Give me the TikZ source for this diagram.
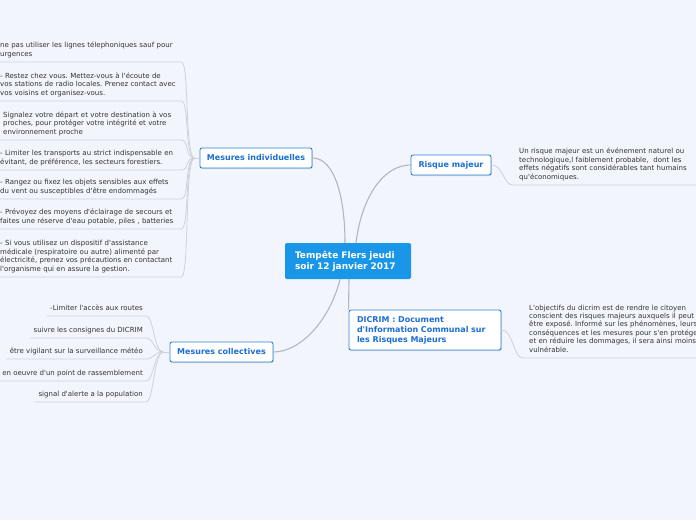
\documentclass[tikz,border=0pt]{standalone}
\usepackage{fontspec}
\setmainfont{DejaVu Sans}[Ligatures=TeXOff]
\usetikzlibrary{shadows}
\definecolor{bgblue}{HTML}{F2F5FC}
\definecolor{rootblue}{HTML}{1A96E8}
\definecolor{topicblue}{HTML}{2C82DE}
\definecolor{topictext}{HTML}{1C6ED6}
\definecolor{linkgray}{HTML}{B4B6BE}
\definecolor{leafgray}{HTML}{CED1DA}
\definecolor{leaftext}{HTML}{333333}
\frenchspacing

\begin{document}
\begin{tikzpicture}[
    x=1pt, y=-1pt,
    root/.style={rectangle, rounded corners=2pt, fill=rootblue, text=white,
                 font=\fontsize{9}{11}\selectfont\bfseries, align=left,
                 minimum width=126pt, minimum height=36pt, text width=106pt,
                 inner xsep=10pt},
    topic/.style={rectangle, rounded corners=2pt, draw=topicblue, line width=0.9pt,
                  fill=white, text=topictext, font=\fontsize{8}{10}\selectfont\bfseries,
                  minimum height=20pt, inner sep=0pt,
                  drop shadow={shadow xshift=0.8pt, shadow yshift=-1pt, opacity=0.25}},
    leaf/.style={inner xsep=3pt, inner ysep=3.2pt, text=leaftext, align=left,
                 font=\fontsize{7}{8.4}\selectfont, execute at end node=\strut},
    link/.style={draw=linkgray, line width=1.1pt},
    twig/.style={draw=leafgray, line width=0.8pt},
]
\useasboundingbox (0,0) rectangle (696,520);
\clip (0,0) rectangle (696,520);
\fill[bgblue] (0,0) rectangle (696,520);

% central topic and the four main branches
\node[root] (storm) at (348,261) {Tempête Flers jeudi\\soir 12 janvier 2017};
\node[topic, minimum width=112pt] (indiv) at (256,158) {Mesures individuelles};
\node[topic, minimum width=80pt] (risk) at (451,165) {Risque majeur};
\node[topic, minimum width=103pt] (coll) at (221.5,352) {Mesures collectives};
\node[topic, minimum width=152pt, minimum height=40pt, text width=136pt,
      align=left] (dicrim) at (425,330)
  {DICRIM : Document\\d'Information Communal sur\\les Risques Majeurs};

\draw[link] ([xshift=-3pt]storm.north) .. controls +(0,-43) and +(23,0) .. (indiv.east);
\draw[link] ([xshift=8pt]storm.north) .. controls +(6,-48) and +(-26,0) .. (risk.west);
\draw[link] ([xshift=-8pt]storm.south) .. controls +(-10,41) and +(27,0) .. (coll.east);
\draw[link] ([xshift=1pt]storm.south) -- (dicrim.north west);

% Mesures individuelles: leaves on the left
\coordinate (indivj) at ([xshift=-5pt]indiv.west);
\node[leaf, anchor=south west, text width=178pt] (i1) at (-3,62)
  {ne pas utiliser les lignes télephoniques sauf pour\\urgences};
\node[leaf, anchor=south west, text width=178pt] (i2) at (-3,101)
  {- Restez chez vous. Mettez-vous à l'écoute de\\vos stations de radio locales. Prenez contact avec\\vos voisins et organisez-vous.};
\node[leaf, anchor=south west, text width=175pt] (i3) at (0,140)
  {Signalez votre départ et votre destination à vos\\proches, pour protéger votre intégrité et votre\\environnement proche};
\node[leaf, anchor=south west, text width=178pt] (i4) at (-3,170)
  {- Limiter les transports au strict indispensable en\\évitant, de préférence, les secteurs forestiers.};
\node[leaf, anchor=south west, text width=178pt] (i5) at (-3,199)
  {- Rangez ou fixez les objets sensibles aux effets\\du vent ou susceptibles d'être endommagés};
\node[leaf, anchor=south west, text width=178pt] (i6) at (-3,229)
  {- Prévoyez des moyens d'éclairage de secours et\\faites une réserve d'eau potable, piles , batteries};
\node[leaf, anchor=south west, text width=178pt] (i7) at (-3,277)
  {- Si vous utilisez un dispositif d'assistance\\médicale (respiratoire ou autre) alimenté par\\électricité, prenez vos précautions en contactant\\l'organisme qui en assure la gestion.};
\draw[twig] (indivj) -- (indiv.west);
\foreach \l in {i1,i2,i3,i4,i5,i6,i7}
  \draw[twig] (indivj) .. controls +(-10,0) and +(8,0) .. (\l.south east) -- (\l.south west);

% Mesures collectives
\coordinate (collj) at ([xshift=-6pt]coll.west);
\node[leaf, anchor=south east] (c1) at (146,316) {-Limiter l'accès aux routes};
\node[leaf, anchor=south east] (c2) at (146,338) {suivre les consignes du DICRIM};
\node[leaf, anchor=south east] (c3) at (146,359) {être vigilant sur la surveillance météo};
\node[leaf, anchor=south east] (c4) at (146,381) {en oeuvre d'un point de rassemblement};
\node[leaf, anchor=south east] (c5) at (146,402) {signal d'alerte a la population};
\draw[twig] (collj) -- (coll.west);
\foreach \l in {c1,c2,c3,c4,c5}
  \draw[twig] (collj) .. controls +(-10,0) and +(8,0) .. (\l.south east) -- (\l.south west);

% right hand leaves
\node[leaf, anchor=south west, inner xsep=6pt, text width=190pt] (rl) at (513,185)
  {Un risque majeur est un événement naturel ou\\technologique,l faiblement probable,\ \ dont les\\effets négatifs sont considérables tant humains\\qu'économiques.};
\node[leaf, anchor=south west, inner xsep=6pt, text width=190pt] (dl) at (523,358)
  {L'objectifs du dicrim est de rendre le citoyen\\conscient des risques majeurs auxquels il peut\\être exposé. Informé sur les phénomènes, leurs\\conséquences et les mesures pour s'en protéger\\et en réduire les dommages, il sera ainsi moins\\vulnérable.};
\draw[twig] (risk.east) .. controls +(12,0) and +(-10,0) .. (rl.south west) -- (rl.south east);
\draw[twig] (dicrim.east) .. controls +(12,0) and +(-10,0) .. (dl.south west) -- (dl.south east);
\end{tikzpicture}
\end{document}
